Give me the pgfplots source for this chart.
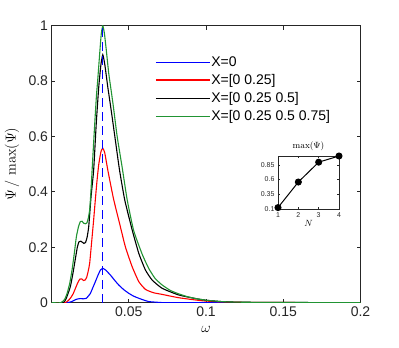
\documentclass[border=0pt]{standalone}
\usepackage{pgfplots}
\pgfplotsset{compat=1.18}
\usepackage[no-math]{fontspec}
\setmainfont{Liberation Sans}

\definecolor{cblue}{rgb}{0,0,1}
\definecolor{cred}{rgb}{1,0,0}
\definecolor{cgreen}{rgb}{0.13,0.58,0.2}
\definecolor{caxis}{rgb}{0.15,0.15,0.15}

\begin{document}
\begin{tikzpicture}
\useasboundingbox (-51.5pt,-45.3pt) rectangle (347.5pt,302.7pt);
\begin{axis}[
    scale only axis,
    width=309pt, height=277pt,
    xmin=0, xmax=0.2, ymin=0, ymax=1,
    xtick={0.05,0.1,0.15,0.2},
    xticklabels={0.05,0.1,0.15,0.2},
    ytick={0,0.2,0.4,0.6,0.8,1},
    yticklabels={0,0.2,0.4,0.6,0.8,1},
    tick label style={font=\fontsize{14}{16}\selectfont, text=caxis},
    axis line style={caxis, line width=0.9pt},
    tick style={caxis, line width=0.8pt},
    major tick length=4pt,
    xlabel={$\omega$},
    ylabel={$\Psi\,/\,\max(\Psi)$},
    label style={font=\fontsize{14}{16}\selectfont},
    xlabel style={at={(axis description cs:0.5,-0.097)}, anchor=center},
    ylabel style={at={(axis description cs:-0.128,0.5)}, anchor=center},
    legend style={draw=none, fill=none, inner sep=0pt,
        at={(axis description cs:0.335,0.893)}, anchor=north west,
        font=\fontsize{14}{16}\selectfont, row sep=4.4pt,
        nodes={inner sep=1pt}},
    legend cell align=left,
    legend image code/.code={\draw[#1, line width=1.1pt] (0pt,0pt) -- (54pt,0pt);},
  ]
  \addplot[color=cblue, line width=1.1pt, smooth, tension=0.3] coordinates {
    (0,0) (0.010,0) (0.013,0.004) (0.016,0.012) (0.0185,0.015) (0.0205,0.014)
    (0.0225,0.016) (0.0240,0.025) (0.0252,0.034) (0.0268,0.055) (0.0284,0.076)
    (0.0300,0.098) (0.0317,0.118) (0.0332,0.124) (0.0350,0.118) (0.0381,0.100)
    (0.0410,0.080) (0.0435,0.064) (0.0470,0.046) (0.0500,0.034) (0.0530,0.024)
    (0.0565,0.016) (0.0600,0.009) (0.0630,0.004) (0.0700,0.001) (0.0800,0) (0.2,0)};
  \addlegendentry{X=0}
  \addplot[color=cred, line width=1.1pt, smooth, tension=0.3] coordinates {
    (0,0) (0.0085,0) (0.0105,0.006) (0.0122,0.016) (0.0140,0.032) (0.0155,0.052)
    (0.0170,0.072) (0.0183,0.085) (0.0195,0.086) (0.0208,0.080) (0.0218,0.082)
    (0.0228,0.092) (0.0238,0.115) (0.0247,0.142) (0.0260,0.22) (0.0273,0.30)
    (0.0285,0.38) (0.0295,0.443) (0.0306,0.50) (0.0320,0.545) (0.0332,0.558)
    (0.0345,0.54) (0.0364,0.48) (0.0385,0.42) (0.0403,0.371) (0.0435,0.299)
    (0.0478,0.202) (0.0522,0.130) (0.0565,0.076) (0.0608,0.048) (0.0660,0.036)
    (0.0716,0.030) (0.0823,0.018) (0.0975,0.007) (0.11,0.003) (0.13,0.001) (0.2,0)};
  \addlegendentry{X=[0 0.25]}
  \addplot[color=black, line width=1.1pt, smooth, tension=0.3] coordinates {
    (0,0) (0.0075,0) (0.0095,0.015) (0.0122,0.058) (0.0140,0.11) (0.0155,0.16)
    (0.0167,0.20) (0.0178,0.22) (0.0190,0.222) (0.0200,0.218) (0.0210,0.214)
    (0.0220,0.217) (0.0230,0.235) (0.0241,0.275) (0.0256,0.383) (0.0273,0.48)
    (0.0290,0.65) (0.0306,0.78) (0.0320,0.86) (0.0332,0.895) (0.0345,0.86)
    (0.0364,0.78) (0.0385,0.70) (0.0410,0.60) (0.0440,0.48) (0.0474,0.371)
    (0.0522,0.263) (0.0565,0.178) (0.0608,0.118) (0.0651,0.082) (0.0716,0.052)
    (0.0823,0.028) (0.0932,0.015) (0.10,0.009) (0.11,0.004) (0.12,0.002)
    (0.14,0.001) (0.2,0)};
  \addlegendentry{X=[0 0.25 0.5]}
  \addplot[color=cgreen, line width=1.1pt, smooth, tension=0.3] coordinates {
    (0,0) (0.006,0) (0.0085,0.012) (0.0101,0.034) (0.0118,0.07) (0.0133,0.118)
    (0.0148,0.18) (0.0161,0.238) (0.0175,0.275) (0.0187,0.293) (0.0198,0.294)
    (0.0208,0.287) (0.0219,0.285) (0.0229,0.288) (0.0238,0.305) (0.0247,0.335)
    (0.0255,0.40) (0.0263,0.48) (0.0275,0.60) (0.0290,0.74) (0.0300,0.81)
    (0.0312,0.90) (0.0322,0.97) (0.0332,1.0) (0.0343,0.97) (0.0355,0.91)
    (0.0370,0.83) (0.0385,0.77) (0.0400,0.71) (0.0425,0.60) (0.0457,0.49)
    (0.0490,0.371) (0.0532,0.26) (0.0587,0.175) (0.0629,0.124) (0.0670,0.088)
    (0.0716,0.064) (0.0770,0.044) (0.0823,0.032) (0.0878,0.022) (0.0932,0.015)
    (0.10,0.009) (0.11,0.004) (0.12,0.002) (0.14,0.001) (0.2,0)};
  \addlegendentry{X=[0 0.25 0.5 0.75]}
  \addplot[color=cblue, line width=1.3pt, dash pattern=on 9pt off 5pt, forget plot]
    coordinates {(0.0332,0) (0.0332,1)};
\end{axis}
\begin{axis}[
    at={(226.5pt,93.7pt)}, anchor=south west,
    scale only axis,
    width=61pt, height=53pt,
    xmin=1, xmax=4, ymin=0.1, ymax=1,
    xtick={1,2,3,4},
    ytick={0.1,0.35,0.6,0.85},
    yticklabels={0.1,0.35,0.6,0.85},
    tick label style={font=\fontsize{7}{8}\selectfont, text=caxis},
    /pgf/number format/assume math mode=true,
    axis line style={caxis, line width=0.8pt},
    tick style={caxis, line width=0.5pt},
    major tick length=2pt,
    title={$\max(\Psi)$},
    title style={font=\fontsize{9}{10}\selectfont, yshift=-4pt},
    xlabel={$N$},
    xlabel style={font=\fontsize{9}{10}\selectfont, yshift=4pt},
  ]
  \addplot[black, line width=1pt, mark=*, mark size=3pt] coordinates {
    (1,0.124) (2,0.558) (3,0.895) (4,1.0)};
\end{axis}
\end{tikzpicture}
\end{document}
